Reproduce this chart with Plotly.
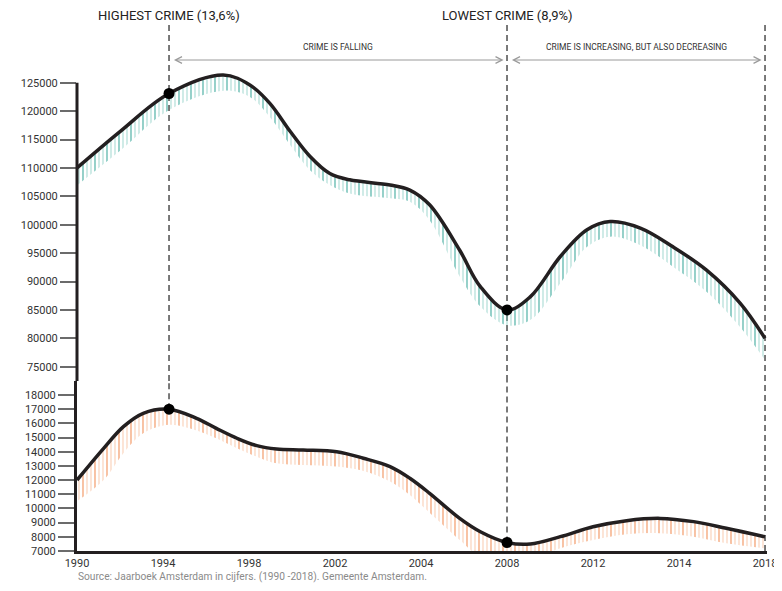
import plotly.graph_objects as go

# ---------------- data ----------------
year_labels = ["1990", "1994", "1998", "2002", "2004", "2008", "2012", "2014", "2018"]
label_pos = [0, 1, 2, 3, 4, 5, 6, 7, 8]

# total registered crime (upper panel)
total_x = [0.0, 0.5, 1.07, 1.7, 2.01, 2.24, 2.48, 2.71, 2.94, 3.17, 3.64, 3.87,
           4.1, 4.45, 4.69, 5.0, 5.27, 5.62, 5.93, 6.2, 6.55, 6.93, 7.32, 7.71, 8.0]
total_y = [110000, 116400, 123100, 126350, 124600, 121400, 116400, 112000, 109000,
           107900, 107000, 106100, 103500, 95500, 89100, 85000, 87300,
           94400, 99100, 100550, 99400, 96100, 92000, 86200, 80000]
total_hatch_x = [0.0, 0.5, 1.07, 1.7, 2.01, 2.24, 2.48, 2.71, 2.94, 3.17, 3.64, 3.87,
                 4.1, 4.45, 4.69, 5.0, 5.27, 5.62, 5.93, 6.2, 6.55, 6.93, 7.32, 7.71, 8.0]
total_hatch_y = [106900, 113000, 120200, 123600, 122500, 119000, 114000, 109600,
                 107000, 105500, 104650, 104050, 100800, 90900, 85600, 82300, 83200,
                 89700, 96100, 97900, 96400, 92600, 88200, 82000, 76200]

# violent crime (lower panel)
violent_x = [0.0, 0.31, 0.54, 0.77, 1.07, 1.39, 1.62, 1.86, 2.09, 2.32, 2.63, 3.02, 3.33,
             3.64, 3.87, 4.1, 4.45, 4.69, 5.0, 5.27, 5.62, 6.0, 6.39, 6.78, 7.17, 7.55, 8.0]
violent_y = [12000, 14240, 15770, 16710, 17000, 16360, 15650, 14950, 14430, 14190, 14120,
             14000, 13540, 12950, 12130, 11070, 9300, 8360, 7600, 7490, 8010, 8710,
             9140, 9300, 9070, 8600, 8000]
violent_hatch_x = violent_x
violent_hatch_y = [10500, 12000, 13900, 15300, 15900, 15500, 14950, 14250, 13650, 13180, 13060,
                   12950, 12640, 11900, 10950, 9700, 7780, 6600, 6200, 6400, 7200, 7780,
                   8180, 8250, 8010, 7540, 7190]

event_x = [1.07, 5.0]
event_total = [123100, 85000]
event_violent = [17000, 7600]
event_titles = ["HIGHEST CRIME (13,6%)", "LOWEST CRIME (8,9%)"]
end_x = 8.0
period_labels = ["CRIME IS FALLING", "CRIME IS INCREASING, BUT ALSO DECREASING"]
source_text = "Source: Jaarboek Amsterdam in cijfers. (1990 -2018). Gemeente Amsterdam."

top_ticks = [75000, 80000, 85000, 90000, 95000, 100000, 105000, 110000, 115000, 120000, 125000]
bottom_ticks = [7000, 8000, 9000, 10000, 11000, 12000, 13000, 14000, 15000, 16000, 17000, 18000]

# ---------------- layout geometry ----------------
# the page body adds an 8px margin on every side, so the figure is drawn 8px right/down
OFF = 8
W, H = 782 - 2 * OFF, 591 - 2 * OFF
ML = 77 - OFF
MR = W - (767 - OFF)
MT = 22 - OFF
MB = H - (551 - OFF)
SPLIT_PX = 381
plot_h = H - MT - MB
split = (551 - SPLIT_PX) / plot_h
X_MAX = 8.023


def px_to_paper(p):
    """p is a vertical position in window pixels"""
    return (551 - p) / plot_h


def axis_range(v1, p1, v2, p2, p_top, p_bot):
    scale = (p2 - p1) / (v1 - v2)
    return [v2 - (p_bot - p2) / scale, v1 + (p1 - p_top) / scale]


top_range = axis_range(125000, 82.7, 75000, 366.7, 22, SPLIT_PX)
bot_range = axis_range(18000, 395, 7000, 551, SPLIT_PX, 551)

INK = "#231f20"
TEAL_DARK, TEAL_LIGHT = "#0f9384", "#78c6ba"
ORANGE_DARK, ORANGE_LIGHT = "#ee7530", "#f6b48b"
FONT = "Roboto, sans-serif"
TICKFONT = dict(family=FONT, size=11, color="#333333")

fig = go.Figure()


def add_panel(xs, ys, hx, hy, yaxis, dark, light, ev_y):
    for color, size, solidity in [(light, 4, 0.35), (dark, 12, 0.1)]:
        fig.add_trace(go.Scatter(x=hx, y=hy, mode="lines", line=dict(width=0, shape="spline"),
                                 xaxis="x", yaxis=yaxis, showlegend=False, hoverinfo="skip"))
        fig.add_trace(go.Scatter(x=xs, y=ys, mode="lines", line=dict(width=0, shape="spline"),
                                 fill="tonexty", fillcolor="rgba(0,0,0,0)",
                                 fillpattern=dict(shape="|", fgcolor=color, bgcolor="rgba(0,0,0,0)",
                                                  size=size, solidity=solidity, fillmode="overlay"),
                                 xaxis="x", yaxis=yaxis, showlegend=False, hoverinfo="skip"))
    fig.add_trace(go.Scatter(x=xs, y=ys, mode="lines", line=dict(width=3.5, color=INK, shape="spline"),
                             xaxis="x", yaxis=yaxis, showlegend=False))
    fig.add_trace(go.Scatter(x=event_x, y=ev_y, mode="markers",
                             marker=dict(size=11, color="#000000"),
                             xaxis="x", yaxis=yaxis, showlegend=False))


add_panel(total_x, total_y, total_hatch_x, total_hatch_y, "y", TEAL_DARK, TEAL_LIGHT, event_total)
add_panel(violent_x, violent_y, violent_hatch_x, violent_hatch_y, "y2", ORANGE_DARK, ORANGE_LIGHT,
          event_violent)

shapes = []
# y-axis spine for the upper panel (starts at the top tick)
shapes.append(dict(type="line", xref="paper", yref="y", x0=0, x1=0, y0=top_ticks[-1], y1=top_range[0],
                   line=dict(color=INK, width=3)))
# dashed guide lines
dash_line = dict(color="#333333", width=1.3, dash="6px,4px")
for xv, vv in list(zip(event_x, event_violent)) + [(end_x, bot_range[0])]:
    shapes.append(dict(type="line", xref="x", yref="paper", x0=xv, x1=xv, y0=split, y1=1,
                       line=dash_line, layer="below"))
    shapes.append(dict(type="line", xref="x", yref="y2", x0=xv, x1=xv, y0=vv, y1=bot_range[1],
                       line=dash_line, layer="below"))

annotations = []
for xv, t in zip(event_x, event_titles):
    annotations.append(dict(x=xv, xref="x", y=px_to_paper(15), yref="paper", text=t, showarrow=False,
                            xanchor="center", yanchor="middle",
                            font=dict(family=FONT, size=13, color="#222222")))

gap = 0.04
periods = [(event_x[0] + gap, event_x[1] - gap), (event_x[1] + gap, end_x - gap)]
for (a, b), t in zip(periods, period_labels):
    annotations.append(dict(x=b, xref="x", ax=a, axref="x", y=px_to_paper(60), yref="paper",
                            ay=0, ayref="pixel", text="", showarrow=True, arrowside="end+start",
                            arrowhead=5, startarrowhead=5, arrowsize=1.3, startarrowsize=1.3,
                            arrowwidth=1, arrowcolor="#9a9a9a", standoff=0, startstandoff=0))
    annotations.append(dict(x=(a + b) / 2, xref="x", y=px_to_paper(47), yref="paper", text=t,
                            showarrow=False, xanchor="center", yanchor="middle",
                            font=dict(family=FONT, size=8.5, color="#333333")))

annotations.append(dict(x=-0.001, xref="paper", y=px_to_paper(576.5), yref="paper", text=source_text,
                        showarrow=False, xanchor="left", yanchor="middle",
                        font=dict(family=FONT, size=10.2, color="#8a8a8a")))

fig.update_layout(
    width=W, height=H,
    margin=dict(l=ML, r=MR, t=MT, b=MB, autoexpand=False),
    paper_bgcolor="white", plot_bgcolor="white",
    showlegend=False,
    xaxis=dict(domain=[0, 1], anchor="y2", range=[0, X_MAX], tickvals=label_pos, ticktext=year_labels,
               showgrid=False, zeroline=False, showline=True, linecolor=INK, linewidth=3,
               ticks="", tickfont=TICKFONT, ticklabeloverflow="allow", automargin=False),
    yaxis=dict(domain=[split, 1], anchor="x", range=top_range, tickvals=top_ticks, tickformat="d",
               showgrid=False, zeroline=False, showline=False, ticks="outside", ticklen=16,
               tickwidth=2, tickcolor="#6b6b6b", tickfont=TICKFONT, automargin=False),
    yaxis2=dict(domain=[0, split], anchor="x", range=bot_range, tickvals=bottom_ticks, tickformat="d",
                showgrid=False, zeroline=False, showline=True, linecolor=INK, linewidth=3,
                ticks="outside", ticklen=16, tickwidth=2, tickcolor="#6b6b6b", tickfont=TICKFONT,
                automargin=False),
    shapes=shapes,
    annotations=annotations,
)

fig.write_html("out.html")
